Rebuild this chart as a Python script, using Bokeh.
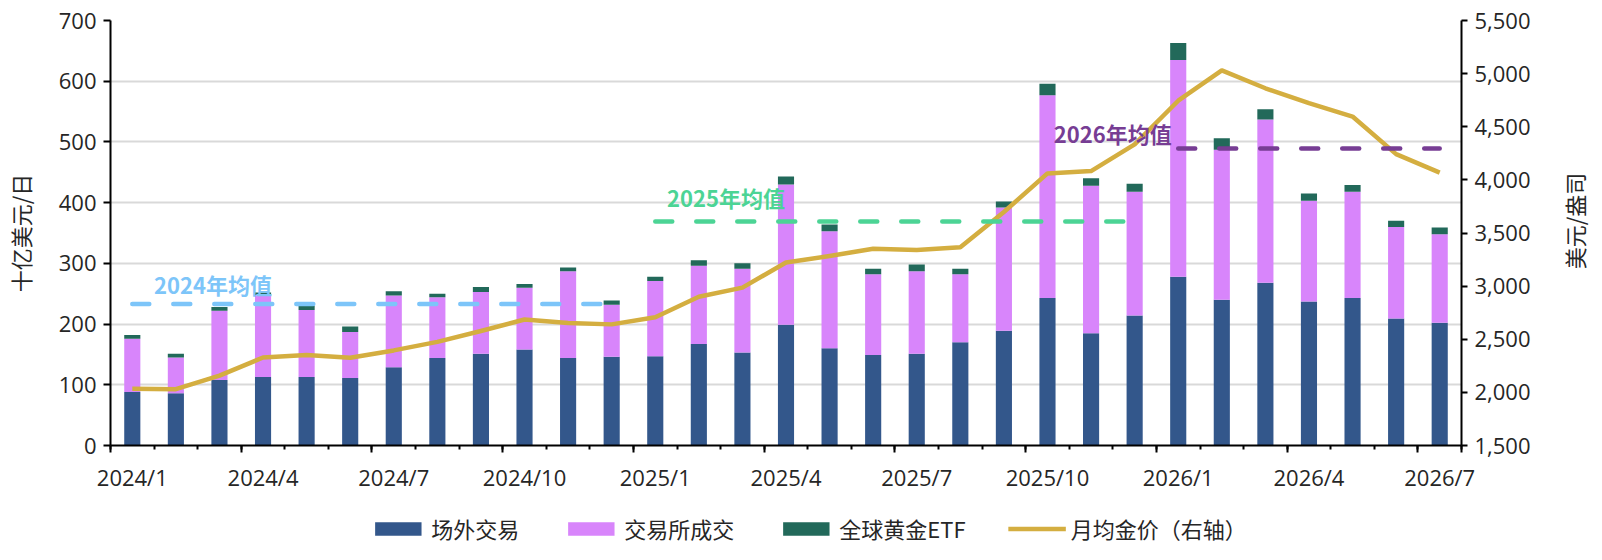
import math
from bokeh.plotting import figure
from bokeh.layouts import column, row
from bokeh.models import (Range1d, LinearAxis, FixedTicker, NumeralTickFormatter,
                          Legend, LegendItem, ColumnDataSource, Spacer)
from bokeh.core.properties import value
from bokeh.embed import file_html
from bokeh.resources import INLINE

# ---------------- data ----------------
months = ["2024/1", "2024/2", "2024/3", "2024/4", "2024/5", "2024/6", "2024/7", "2024/8",
          "2024/9", "2024/10", "2024/11", "2024/12", "2025/1", "2025/2", "2025/3", "2025/4",
          "2025/5", "2025/6", "2025/7", "2025/8", "2025/9", "2025/10", "2025/11", "2025/12",
          "2026/1", "2026/2", "2026/3", "2026/4", "2026/5", "2026/6", "2026/7"]
otc = [88, 86, 108, 113, 113, 111, 129, 144, 151, 158, 144, 146,
       147, 167, 153, 199, 160, 149, 151, 170, 189, 243, 185, 214,
       278, 240, 268, 237, 243, 209, 202]
exchange = [88, 59, 114, 135, 110, 76, 118, 100, 102, 102, 143, 86,
            124, 129, 138, 231, 193, 133, 136, 112, 203, 334, 243, 204,
            357, 247, 269, 166, 175, 151, 146]
etf = [6, 6, 6, 4, 7, 9, 7, 6, 8, 6, 6, 7,
       7, 9, 9, 13, 11, 9, 11, 9, 10, 19, 12, 13,
       28, 19, 17, 12, 11, 10, 11]
gold_price = [2033, 2030, 2158, 2328, 2352, 2326, 2395, 2475, 2578, 2686, 2652, 2640,
              2707, 2900, 2986, 3222, 3283, 3352, 3340, 3365, 3698, 4061, 4083, 4334,
              4745, 5030, 4862, 4722, 4596, 4242, 4068]
avg_years = ["2024", "2025", "2026"]
avg_values = [233, 369, 489]
avg_labels = ["2024年均值", "2025年均值", "2026年均值"]
series_names = ["场外交易", "交易所成交", "全球黄金ETF", "月均金价（右轴）"]
left_title = "十亿美元/日"
right_title = "美元/盎司"
left_ticks = [0, 100, 200, 300, 400, 500, 600, 700]
right_ticks = [1500, 2000, 2500, 3000, 3500, 4000, 4500, 5000, 5500]

# ---------------- styles ----------------
C_OTC = "#33578b"
C_EXC = "#d885fb"
C_ETF = "#22695a"
C_GOLD = "#d4ae40"
AVG_COLORS = ["#7dc5f9", "#4cd495", "#773d94"]
TXT = "#262626"
NUM_FONT = "Open Sans"
CJK_FONT = "Noto Sans CJK SC"

MAIN_W, MAIN_H = 1541, 494
B_LEFT, B_RIGHT, B_TOP, B_BOTTOM = 97, 80, 20, 48
TITLE_W = 49
LEG_H, LEG_SHIFT = 50, 25
TOTAL_W = MAIN_W + TITLE_W

n = len(months)
xs = list(range(n))
src = ColumnDataSource(dict(x=xs, otc=otc, exchange=exchange, etf=etf, price=gold_price))

p = figure(width=MAIN_W, height=MAIN_H, output_backend="svg", toolbar_location=None,
           x_range=Range1d(-0.5, n - 0.5), y_range=Range1d(left_ticks[0], left_ticks[-1]),
           min_border_left=B_LEFT, min_border_right=B_RIGHT, min_border_top=B_TOP,
           min_border_bottom=B_BOTTOM)
p.extra_y_ranges = {"price": Range1d(right_ticks[0], right_ticks[-1])}
p.outline_line_color = None
p.background_fill_color = "white"
p.border_fill_color = "white"

# grid
p.xgrid.visible = False
lt = FixedTicker(ticks=left_ticks, minor_ticks=[])
p.yaxis[0].ticker = lt
p.ygrid[0].ticker = lt
p.ygrid.grid_line_color = "#d9d9d9"
p.ygrid.grid_line_width = 2

# bars
bars = p.vbar_stack(["otc", "exchange", "etf"], x="x", width=0.37, source=src,
                    color=[C_OTC, C_EXC, C_ETF], line_color=None)
# gold price line
gl = p.line("x", "price", source=src, y_range_name="price", line_color=C_GOLD,
            line_width=4.5, line_join="round")

# yearly average dashed lines + labels
for yr, av, lab, col in zip(avg_years, avg_values, avg_labels, AVG_COLORS):
    idx = [i for i, m in enumerate(months) if m.startswith(yr)]
    x0, x1 = idx[0], idx[-1]
    p.line([x0, x1], [av, av], line_color=col, line_width=4.5, line_dash="17 24",
           line_cap="round")
    if yr == "2024":
        tx, ty, al = x0 + 0.5, av + 33, "left"
    elif yr == "2025":
        tx, ty, al = x0 + 0.27, av + 41, "left"
    else:
        tx, ty, al = x0 - 0.15, av + 26, "right"
    p.text(x=[tx], y=[ty], text=[lab], text_color=col, text_font=value(CJK_FONT),
           text_font_style="bold", text_font_size="22px", text_baseline="middle",
           text_align=al)

# x axis A: ticks only
xa = p.xaxis[0]
bticks = [i - 0.5 for i in range(0, n + 1, 3)] + [n - 0.5]
xa.ticker = FixedTicker(ticks=bticks, minor_ticks=[i - 0.5 for i in range(n + 1)])
xa.major_label_overrides = {t: "" for t in bticks}
xa.major_label_text_font_size = "1px"
xa.major_label_standoff = 0
xa.major_tick_out = 7
xa.major_tick_in = 0
xa.minor_tick_out = 4
xa.minor_tick_in = 0
xa.axis_line_color = "black"
xa.axis_line_width = 2
xa.major_tick_line_width = 2
xa.minor_tick_line_width = 2
xa.major_tick_line_color = "black"
xa.minor_tick_line_color = "black"

# x axis B: labels only
lab_idx = list(range(0, n, 3))
xb = LinearAxis(ticker=FixedTicker(ticks=lab_idx, minor_ticks=[]),
                major_label_overrides={i: months[i] for i in lab_idx})
xb.axis_line_color = None
xb.major_tick_line_color = None
xb.minor_tick_line_color = None
xb.major_tick_out = 0
xb.major_tick_in = 0
xb.major_label_standoff = 9
xb.major_label_text_font = NUM_FONT
xb.major_label_text_font_size = "22px"
xb.major_label_text_color = TXT
p.add_layout(xb, "below")

# left axis
ya = p.yaxis[0]
ya.axis_line_color = "black"
ya.axis_line_width = 2
ya.major_tick_line_color = "black"
ya.major_tick_line_width = 2
ya.major_tick_out = 7
ya.major_tick_in = 0
ya.minor_tick_line_color = None
ya.major_label_standoff = 7
ya.major_label_text_font = NUM_FONT
ya.major_label_text_font_size = "22px"
ya.major_label_text_color = TXT
ya.axis_label = left_title
ya.axis_label_text_font = CJK_FONT
ya.axis_label_text_font_size = "22px"
ya.axis_label_text_font_style = "normal"
ya.axis_label_text_color = TXT
ya.axis_label_standoff = 20

# right axis (title drawn in a narrow strip to its right)
yr_ax = LinearAxis(y_range_name="price", ticker=FixedTicker(ticks=right_ticks, minor_ticks=[]),
                   formatter=NumeralTickFormatter(format="0,0"))
yr_ax.axis_line_color = "black"
yr_ax.axis_line_width = 2
yr_ax.major_tick_line_color = "black"
yr_ax.major_tick_line_width = 2
yr_ax.major_tick_out = 6
yr_ax.major_tick_in = 0
yr_ax.minor_tick_line_color = None
yr_ax.major_label_standoff = 7
yr_ax.major_label_text_font = NUM_FONT
yr_ax.major_label_text_font_size = "22px"
yr_ax.major_label_text_color = TXT
p.add_layout(yr_ax, "right")

# right title strip
pt = figure(width=TITLE_W, height=MAIN_H, output_backend="svg", toolbar_location=None,
            x_range=Range1d(0, TITLE_W), y_range=Range1d(0, MAIN_H),
            min_border_left=0, min_border_right=0, min_border_top=0, min_border_bottom=0,
            x_axis_location=None, y_axis_location=None)
pt.outline_line_color = None
pt.xgrid.visible = False
pt.ygrid.visible = False
frame_mid = MAIN_H - (B_TOP + (MAIN_H - B_TOP - B_BOTTOM) / 2)
pt.text(x=[32], y=[frame_mid], text=[right_title], angle=math.pi / 2,
        text_font=value(CJK_FONT), text_font_size="22px", text_color=TXT,
        text_align="center", text_baseline="middle")

# legend strip (separate small figure under the chart; swatch renderers sit outside its range)
pl = figure(width=TOTAL_W - LEG_SHIFT, height=LEG_H, output_backend="svg", toolbar_location=None,
            x_range=Range1d(0, 1), y_range=Range1d(0, 1),
            min_border_left=0, min_border_right=0, min_border_top=0, min_border_bottom=0,
            x_axis_location=None, y_axis_location=None)
pl.outline_line_color = None
pl.xgrid.visible = False
pl.ygrid.visible = False
sw_src = ColumnDataSource(dict(x=[-5.0, -6.0], top=[-5.0, -6.0]))
s1 = pl.vbar(x="x", top="top", bottom=-7.0, width=0.1, source=sw_src, color=C_OTC, line_color=None)
s2 = pl.vbar(x="x", top="top", bottom=-7.0, width=0.1, source=sw_src, color=C_EXC, line_color=None)
s3 = pl.vbar(x="x", top="top", bottom=-7.0, width=0.1, source=sw_src, color=C_ETF, line_color=None)
s4 = pl.line(x="x", y="top", source=sw_src, line_color=C_GOLD, line_width=4.5)
items = [LegendItem(label=series_names[0], renderers=[s1]),
         LegendItem(label=series_names[1], renderers=[s2]),
         LegendItem(label=series_names[2], renderers=[s3]),
         LegendItem(label=series_names[3], renderers=[s4])]
leg = Legend(items=items, orientation="horizontal", location="bottom_center",
             glyph_width=58, glyph_height=17, label_standoff=5, spacing=42,
             padding=0, margin=0, border_line_color=None, background_fill_alpha=0,
             label_text_font=CJK_FONT, label_text_font_size="22px", label_text_color=TXT)
pl.add_layout(leg, "center")

layout = column(row(p, pt, spacing=0), row(Spacer(width=LEG_SHIFT, height=LEG_H), pl, spacing=0),
                spacing=0)
open("out.html", "w").write(file_html(layout, INLINE))
